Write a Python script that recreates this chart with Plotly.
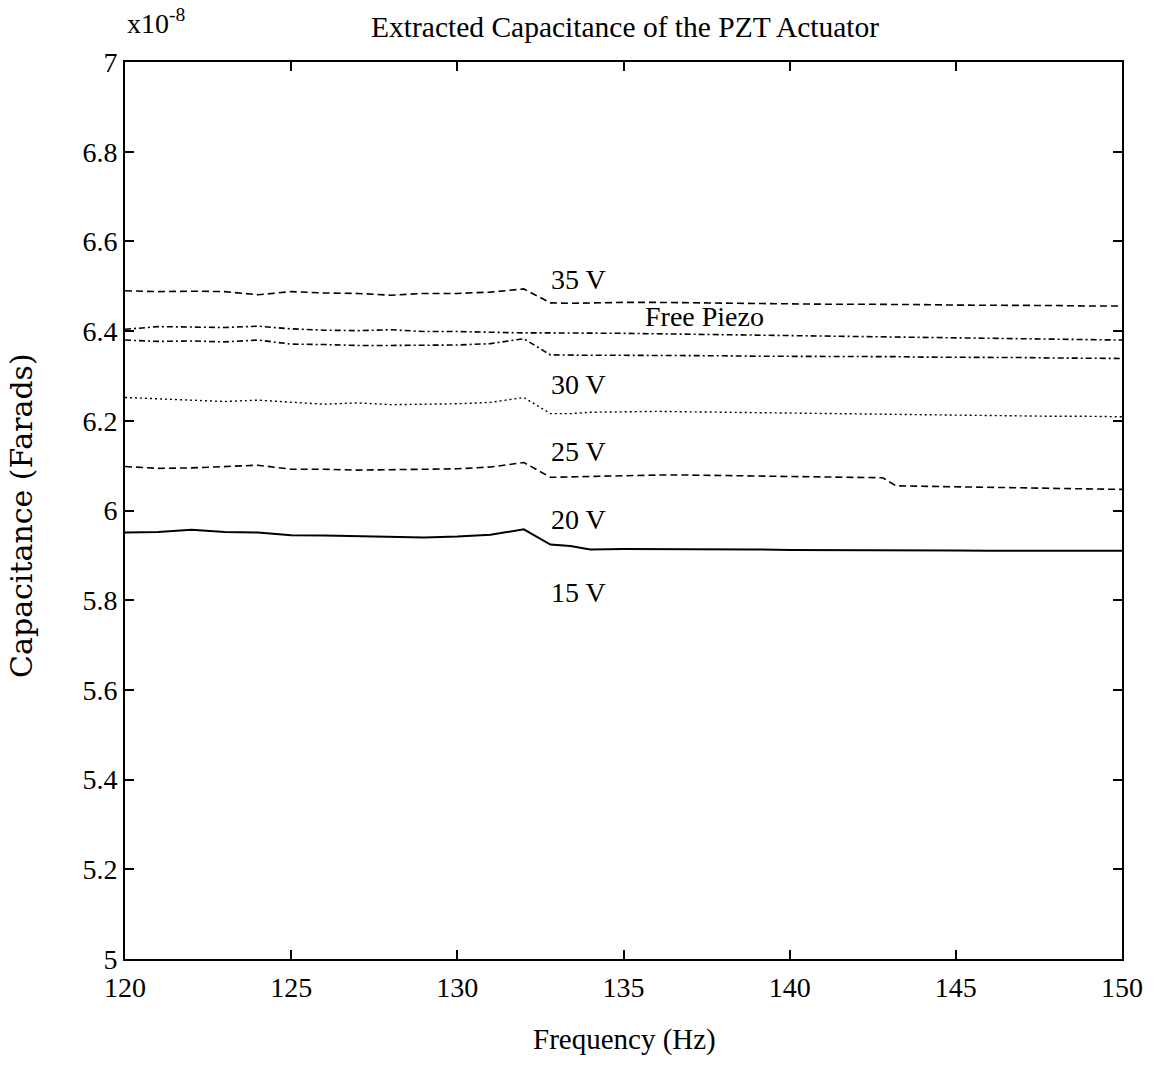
import plotly.graph_objects as go

# ---------------- data (capacitance in units of 1e-8 F) ----------------
freq = [120, 121, 122, 123, 124, 125, 126, 127, 128, 129, 130, 131, 132, 132.8, 133.4, 134,
        135, 136, 137, 138, 139, 140, 141, 142, 142.8, 143.2, 144, 145, 146, 147, 148, 149, 150]

cap_35v = [6.490, 6.488, 6.489, 6.488, 6.481, 6.488, 6.485, 6.484, 6.480, 6.484, 6.484, 6.487, 6.494,
           6.463, 6.462, 6.463, 6.464, 6.464, 6.463, 6.462, 6.462, 6.461, 6.460, 6.460, 6.459, 6.459,
           6.459, 6.458, 6.458, 6.457, 6.457, 6.456, 6.456]
cap_free = [6.404, 6.410, 6.409, 6.408, 6.411, 6.405, 6.402, 6.401, 6.403, 6.399, 6.399, 6.397, 6.396,
            6.396, 6.396, 6.396, 6.395, 6.394, 6.393, 6.392, 6.391, 6.390, 6.389, 6.388, 6.387, 6.387,
            6.386, 6.385, 6.384, 6.383, 6.382, 6.381, 6.380]
cap_30v = [6.380, 6.377, 6.378, 6.376, 6.380, 6.371, 6.370, 6.368, 6.368, 6.369, 6.369, 6.372, 6.383,
           6.347, 6.346, 6.346, 6.346, 6.346, 6.345, 6.345, 6.344, 6.344, 6.344, 6.343, 6.343, 6.343,
           6.342, 6.342, 6.341, 6.341, 6.340, 6.340, 6.339]
cap_25v = [6.252, 6.249, 6.247, 6.243, 6.246, 6.241, 6.237, 6.240, 6.236, 6.237, 6.238, 6.241, 6.252,
           6.216, 6.216, 6.219, 6.220, 6.221, 6.220, 6.219, 6.219, 6.218, 6.217, 6.216, 6.215, 6.215,
           6.214, 6.213, 6.212, 6.211, 6.210, 6.210, 6.209]
cap_20v = [6.098, 6.094, 6.095, 6.098, 6.101, 6.092, 6.092, 6.090, 6.091, 6.092, 6.093, 6.097, 6.107,
           6.074, 6.075, 6.077, 6.078, 6.079, 6.079, 6.078, 6.077, 6.076, 6.075, 6.074, 6.073, 6.055,
           6.054, 6.053, 6.052, 6.051, 6.050, 6.048, 6.047]
cap_15v = [5.951, 5.952, 5.957, 5.952, 5.951, 5.945, 5.944, 5.943, 5.942, 5.940, 5.942, 5.946, 5.958,
           5.924, 5.921, 5.913, 5.914, 5.914, 5.913, 5.913, 5.913, 5.912, 5.912, 5.912, 5.911, 5.911,
           5.911, 5.911, 5.910, 5.910, 5.910, 5.910, 5.910]

x_ticks = [120, 125, 130, 135, 140, 145, 150]
x_tick_text = ["120", "125", "130", "135", "140", "145", "150"]
y_ticks = [5, 5.2, 5.4, 5.6, 5.8, 6, 6.2, 6.4, 6.6, 6.8, 7]
y_tick_text = ["5", "5.2", "5.4", "5.6", "5.8", "6", "6.2", "6.4", "6.6", "6.8", "7"]

# curve labels (text, frequency, capacitance)
label_text = ["35 V", "Free Piezo", "30 V", "25 V", "20 V", "15 V"]
label_freq = [133.65, 137.45, 133.65, 133.65, 133.65, 133.65]
label_cap = [6.516, 6.433, 6.282, 6.132, 5.981, 5.818]

# ---------------- figure ----------------
SERIF = "Liberation Serif, Times New Roman, serif"
series = [
    ("35 V", cap_35v, dict(color="black", width=1.6, dash="7px,4px")),
    ("Free Piezo", cap_free, dict(color="black", width=1.6, dash="6px,3px,2px,3px")),
    ("30 V", cap_30v, dict(color="black", width=1.6, dash="6px,3px,2px,3px")),
    ("25 V", cap_25v, dict(color="black", width=1.4, dash="2px,3px")),
    ("20 V", cap_20v, dict(color="black", width=1.6, dash="7px,4px")),
    ("15 V", cap_15v, dict(color="black", width=2.0)),
]

fig = go.Figure()
for name, ys, ln in series:
    fig.add_trace(go.Scatter(x=freq, y=ys, mode="lines", name=name, line=ln,
                             showlegend=False, hoverinfo="x+y+name"))

for t, fx, cy in zip(label_text, label_freq, label_cap):
    fig.add_annotation(x=fx, y=cy, xref="x", yref="y", text=t, showarrow=False,
                       font=dict(family=SERIF, size=28, color="black"),
                       xanchor="center", yanchor="middle")

# title, axis titles and exponent
fig.add_annotation(x=0.5015, y=1.039, xref="paper", yref="paper",
                   text="Extracted Capacitance of the PZT Actuator", showarrow=False,
                   font=dict(family=SERIF, size=29.5, color="black"),
                   xanchor="center", yanchor="middle")
fig.add_annotation(x=0.5015, y=-0.090, xref="paper", yref="paper",
                   text="Frequency (Hz)", showarrow=False,
                   font=dict(family=SERIF, size=29, color="black"),
                   xanchor="center", yanchor="middle")
fig.add_annotation(x=-0.1033, y=0.494, xref="paper", yref="paper",
                   text="Capacitance (Farads)", showarrow=False, textangle=-90,
                   font=dict(family="DejaVu Serif, serif", size=30, color="black"),
                   xanchor="center", yanchor="middle")
fig.add_annotation(x=0.0, y=1.0455, xref="paper", yref="paper",
                   text="x10<sup>-8</sup>", showarrow=False,
                   font=dict(family=SERIF, size=28, color="black"),
                   xanchor="left", yanchor="middle")

axis_common = dict(showgrid=False, zeroline=False, showline=True, linecolor="black",
                   linewidth=2, mirror="ticks", ticks="inside", ticklen=9, tickwidth=1.5,
                   tickcolor="black",
                   tickfont=dict(family=SERIF, size=28, color="black"))

fig.update_xaxes(range=[120, 150], tickvals=x_ticks, ticktext=x_tick_text,
                 ticklabelstandoff=2, **axis_common)
fig.update_yaxes(range=[5, 7], tickvals=y_ticks, ticktext=y_tick_text, **axis_common)

fig.update_layout(width=1154, height=1088,
                  margin=dict(l=125, r=32, t=62, b=129),
                  paper_bgcolor="white", plot_bgcolor="white",
                  font=dict(family=SERIF, color="black"))

fig.write_html("out.html")
